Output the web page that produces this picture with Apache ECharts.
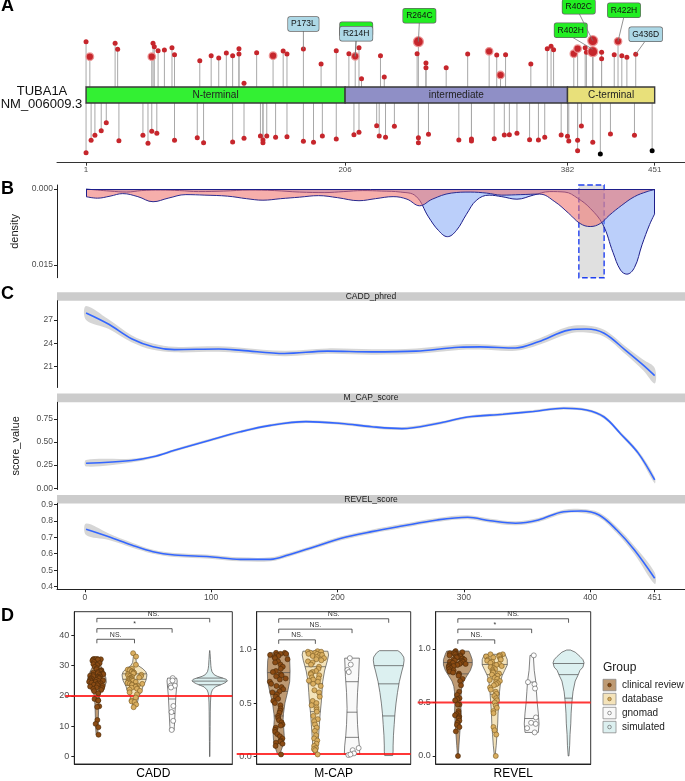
<!DOCTYPE html>
<html><head><meta charset="utf-8">
<script src="https://cdn.jsdelivr.net/npm/echarts@6/dist/echarts.min.js"></script>
<style>html,body{margin:0;padding:0;background:#fff}#c{width:685px;height:781px}</style>
</head><body><div id="c"></div>
<script>
// ================= DATA =================
// ---- Panel A : lollipop ----
const domainNames = ['N-terminal', 'intermediate', 'C-terminal'];
const domainStarts = [1, 206, 382];
const domainEnds = [206, 382, 451];
const aTicks = [1, 206, 382, 451];
// [residue, stem height, count]
const upperVariants = [[1,53.3,1],[4,38.3,2],[24,51.7,1],[26,45.7,1],[53,38.3,2],[54,51.7,1],[55,48.3,1],[58,44.3,1],[63,45,1],[69,47.3,1],[71,40.3,1],[91,34.3,1],[100,39.3,1],[106,37,1],[112,42,1],[117,39.3,1],[122,46.3,1],[122,41,1],[126,11.7,1],[136,42.3,1],[149,39.3,2],[157,44,1],[160,41,1],[173,46,1],[187,31,1],[199,44.3,1],[209,41.3,1],[214,38.7,2],[217,47.3,1],[219,16.3,1],[234,39.3,1],[237,18,1],[263,41.3,1],[264,53.3,3],[270,32,1],[270,27.3,1],[286,27.3,1],[303,41,1],[320,43.7,2],[326,40,1],[329,20,2],[333,40.3,1],[353,31,1],[366,46.3,1],[369,48.7,1],[371,45.3,1],[387,41.3,2],[390,46.3,2],[396,47.3,1],[397,42.7,1],[402,45.7,1],[402,54.3,3],[402,43.3,3],[409,42.7,1],[409,36.3,1],[419,40.3,1],[422,53.7,2],[425,39.3,1],[429,37.7,1],[436,40.7,1]];
// [residue, stem height (negative = below), count, source(0 red / 1 black)]
const lowerVariants = [[1,-57.7,1,0],[5,-45.3,1,0],[8,-40.3,1,0],[13,-35.7,1,0],[17,-27.7,1,0],[27,-45.7,1,0],[46,-40.3,1,0],[50,-48.3,1,0],[53,-36.3,1,0],[57,-38.3,1,0],[71,-45.3,1,0],[89,-42.7,1,0],[94,-47.7,1,0],[117,-47,1,0],[126,-43.3,1,0],[139,-41,1,0],[141,-45,1,0],[141,-47.7,1,0],[144,-41,1,0],[151,-42.3,1,0],[160,-41.7,1,0],[173,-46.3,1,0],[181,-47.3,1,0],[188,-41,1,0],[199,-44,1,0],[213,-39.7,1,0],[217,-37.3,1,0],[231,-30.7,1,0],[233,-41,1,0],[238,-42.3,1,0],[245,-31.3,1,0],[264,-42.7,1,0],[264,-47.7,1,0],[272,-39.3,1,0],[296,-45,1,0],[306,-44,1,0],[306,-46,1,0],[324,-43.7,1,0],[332,-40,1,0],[336,-39.7,1,0],[342,-38.3,1,0],[352,-44.7,1,0],[359,-45,1,0],[364,-42.3,1,0],[377,-40,1,0],[382,-41.3,1,0],[383,-46,1,0],[390,-45.3,1,0],[390,-55.7,1,0],[393,-31,1,0],[402,-47.3,1,0],[408,-59,1,1],[416,-39,1,0],[435,-40.3,1,0],[449,-55.7,1,1]];
// [label, residue, height, kind]
const labelledVariants = [['P173L',173,46,'database'],['R214H',214,38.7,'clinical'],['R214H',214,38.7,'database'],['R264C',264,53.3,'clinical'],['R402H',402,45.7,'clinical'],['R402C',402,54.3,'clinical'],['R422H',422,53.7,'clinical'],['G436D',436,40.7,'database']];

// ---- Panel B : density ----
const pinkRes = [1,10,20,30,42,54,66,80,95,113,128,141,155,170,185,200,217,230,244,255,265,275,290,305,318,330,345,360,372,383,392,400,408,415,425,435,445,451];
const pinkDen = [0.0015,0.0018,0.0014,0.0009,0.0015,0.0025,0.0018,0.0011,0.0012,0.0014,0.0019,0.0022,0.0019,0.0016,0.0013,0.0017,0.0023,0.0019,0.0015,0.0020,0.0033,0.0020,0.0008,0.0006,0.0008,0.0012,0.0011,0.0010,0.0025,0.0048,0.0068,0.0074,0.0068,0.0052,0.0032,0.0015,0.0005,0.0001];
const blueRes = [1,10,20,33,45,60,75,90,110,130,150,170,190,205,220,235,250,262,272,280,287,294,302,310,320,330,342,355,368,380,390,400,410,418,424,429,435,441,447,451];
const blueDen = [0.0000,0.0002,0.0004,0.0006,0.0003,0.0002,0.0003,0.0005,0.0004,0.0002,0.0003,0.0006,0.0007,0.0005,0.0003,0.0004,0.0006,0.0014,0.0055,0.0082,0.0094,0.0082,0.0050,0.0022,0.0012,0.0015,0.0020,0.0012,0.0005,0.0006,0.0018,0.0038,0.0070,0.0125,0.0160,0.0168,0.0155,0.0110,0.0070,0.0049];
const highlightRange = [391, 411];
const densityTicks = [0, 0.015];

// ---- Panel C : smoothed scores ----
const cTicks = [0, 100, 200, 300, 400, 451];
const caddRes = [1,19,37,54,71,106,124,158,192,227,262,296,313,341,359,383,397,411,428,442,451];
const caddFit = [27.9,26.45,24.6,23.57,23.2,23.27,23.1,22.7,23.0,22.9,23.0,23.5,23.55,23.4,24.2,25.7,25.84,25.3,23.1,21.2,19.85];
const caddSe  = [0.9,0.6,0.45,0.4,0.35,0.35,0.35,0.35,0.35,0.35,0.35,0.35,0.35,0.35,0.4,0.45,0.45,0.45,0.5,0.7,1.0];
const mcapRes = [1,37,54,71,99,123,147,175,203,227,251,279,303,331,355,379,397,411,424,438,451];
const mcapFit = [0.27,0.30,0.34,0.41,0.52,0.61,0.68,0.72,0.70,0.665,0.645,0.70,0.77,0.80,0.83,0.865,0.845,0.77,0.59,0.38,0.09];
const mcapSe  = [0.035,0.02,0.015,0.015,0.015,0.015,0.015,0.015,0.015,0.015,0.015,0.015,0.015,0.015,0.015,0.015,0.015,0.02,0.02,0.025,0.035];
const revelRes = [1,19,37,54,71,99,123,147,161,182,203,227,251,279,303,321,341,359,379,393,407,421,435,451];
const revelFit = [0.748,0.703,0.653,0.612,0.592,0.582,0.566,0.566,0.592,0.643,0.694,0.734,0.768,0.805,0.821,0.80,0.785,0.805,0.855,0.859,0.835,0.744,0.622,0.451];
const revelSe  = [0.035,0.02,0.015,0.012,0.012,0.012,0.012,0.012,0.012,0.012,0.012,0.012,0.012,0.012,0.012,0.012,0.012,0.012,0.012,0.012,0.015,0.02,0.025,0.035];
const caddCTicks = [21, 24, 27];
const mcapCTicks = [0, 0.25, 0.5, 0.75];
const revelCTicks = [0.4, 0.5, 0.6, 0.7, 0.8, 0.9];

// ---- Panel D : violins ----
const groupNames = ['clinical review', 'database', 'gnomad', 'simulated'];
const caddClinical = [32.2,32.2,32.2,32.1,32.0,32.0,31.6,31.2,30.8,30.5,30.2,29.6,29.2,28.8,28.5,28.3,28.1,27.9,27.7,27.5,27.4,27.2,27.0,26.9,26.7,26.5,26.4,26.2,26.0,25.9,25.8,25.6,25.4,25.3,25.1,25.0,24.9,24.7,24.6,24.4,24.2,24.1,23.9,23.7,23.5,23.3,23.1,22.8,22.6,22.3,22.0,21.6,20.9,19.0,18.6,18.5,16.6,16.4,12.1,10.8,9.7,7.2];
const caddDatabase = [34.1,33.0,30.3,29.0,28.7,28.5,28.2,28.0,27.8,27.6,27.4,27.2,27.0,26.8,26.6,26.5,26.3,26.1,26.0,25.8,25.6,25.5,25.3,25.1,25.0,24.8,24.6,24.5,24.3,24.1,24.0,23.8,23.6,23.4,23.2,23.0,22.7,22.4,22.1,21.7,21.2,20.5,19.5,18.5,18.2,18.0,17.2,16.3];
const caddGnomad = [25.9,25.1,23.4,23.4,22.8,16.7,14.7,11.8,8.8];
const mcapClinical = [0.97,0.97,0.96,0.96,0.95,0.95,0.94,0.93,0.92,0.91,0.89,0.88,0.86,0.84,0.82,0.80,0.79,0.77,0.76,0.75,0.73,0.72,0.70,0.68,0.66,0.65,0.63,0.61,0.60,0.58,0.56,0.54,0.52,0.50,0.48,0.45,0.43,0.41,0.38,0.36,0.34,0.32,0.30,0.29,0.27,0.25,0.23,0.21,0.19,0.17,0.15,0.14,0.13,0.12,0.10,0.02];
const mcapDatabase = [0.985,0.98,0.98,0.97,0.97,0.96,0.96,0.95,0.95,0.94,0.93,0.92,0.91,0.90,0.89,0.88,0.86,0.84,0.82,0.80,0.79,0.78,0.77,0.76,0.74,0.73,0.72,0.71,0.70,0.68,0.66,0.62,0.60,0.56,0.52,0.50,0.48,0.46,0.44,0.42,0.38,0.35,0.33,0.30,0.27,0.24,0.20,0.17,0.15,0.12,0.10,0.08,0.07,0.06,0.02];
const mcapGnomad = [0.92,0.86,0.81,0.79,0.08,0.06,0.03,0.015,0.02];
const revelClinical = [0.98,0.97,0.97,0.96,0.96,0.95,0.95,0.94,0.94,0.93,0.93,0.92,0.92,0.91,0.91,0.90,0.90,0.89,0.89,0.88,0.88,0.87,0.87,0.86,0.86,0.85,0.85,0.84,0.84,0.83,0.82,0.81,0.80,0.79,0.78,0.77,0.76,0.75,0.72,0.70,0.66,0.60,0.57,0.54,0.53,0.52,0.48,0.48,0.42,0.40,0.39,0.38,0.37,0.36,0.35,0.33,0.31,0.29,0.27,0.23,0.0];
const revelDatabase = [0.95,0.95,0.94,0.94,0.93,0.93,0.92,0.91,0.90,0.90,0.89,0.88,0.87,0.86,0.85,0.85,0.84,0.83,0.82,0.81,0.80,0.79,0.78,0.77,0.76,0.75,0.73,0.72,0.71,0.70,0.69,0.68,0.67,0.66,0.64,0.62,0.60,0.58,0.56,0.54,0.52,0.50,0.47,0.45,0.42,0.40,0.27,0.24,0.20,0.0];
const revelGnomad = [0.94,0.69,0.67,0.63,0.36,0.31,0.30,0.26,0.22];
// violin outlines: [value, half-width in group units]
const caddViolins = [
  [[7.2,0.02],[10,0.035],[13,0.04],[17,0.05],[20,0.07],[21.5,0.1],[23,0.2],[24.5,0.25],[26,0.24],[28,0.18],[30,0.1],[31,0.13],[32.2,0.15]],
  [[16.3,0.03],[17,0.05],[18,0.08],[19,0.1],[20,0.12],[21,0.16],[22,0.2],[23,0.22],[24,0.26],[25,0.3],[26,0.32],[27,0.33],[28,0.3],[29,0.22],[30,0.1],[31,0.05],[33,0.03],[34.1,0.01]],
  [[8.6,0.05],[10,0.06],[15,0.08],[20,0.1],[25,0.135],[25.9,0.12]],
  [[0,0.005],[5,0.008],[10,0.012],[15,0.015],[18,0.02],[20,0.03],[21,0.04],[22,0.07],[23,0.15],[23.5,0.25],[24,0.35],[24.5,0.43],[25,0.47],[25.5,0.44],[26,0.32],[26.5,0.2],[27,0.12],[28,0.06],[29,0.04],[30,0.03],[32,0.02],[34,0.01],[35,0.002]]
];
const caddQuantiles = [[23.2,25.5,28.0],[23.5,25.5,27.3],[14.2,19.0,23.0],[23.7,24.9,25.9]];
const mcapViolins = [
  [[0.02,0.03],[0.05,0.06],[0.1,0.11],[0.15,0.14],[0.2,0.15],[0.3,0.13],[0.35,0.12],[0.4,0.13],[0.5,0.17],[0.6,0.24],[0.7,0.3],[0.8,0.31],[0.9,0.3],[0.97,0.26]],
  [[0.02,0.04],[0.05,0.06],[0.1,0.07],[0.2,0.09],[0.3,0.11],[0.4,0.13],[0.5,0.16],[0.6,0.18],[0.7,0.2],[0.8,0.25],[0.9,0.33],[0.95,0.36],[0.985,0.34]],
  [[0.02,0.21],[0.1,0.2],[0.2,0.17],[0.3,0.15],[0.45,0.135],[0.6,0.15],[0.75,0.18],[0.92,0.2]],
  [[0.01,0.11],[0.05,0.12],[0.1,0.12],[0.2,0.13],[0.3,0.15],[0.4,0.17],[0.5,0.2],[0.6,0.24],[0.7,0.29],[0.8,0.36],[0.85,0.4],[0.9,0.42],[0.93,0.41],[0.97,0.33],[0.99,0.25]]
];
const mcapQuantiles = [[0.38,0.61,0.785],[0.42,0.68,0.84],[0.18,0.415,0.70],[0.38,0.68,0.85]];
const revelViolins = [
  [[0.0,0.01],[0.1,0.03],[0.2,0.05],[0.3,0.07],[0.4,0.09],[0.5,0.08],[0.6,0.09],[0.65,0.11],[0.7,0.16],[0.75,0.25],[0.8,0.34],[0.85,0.39],[0.9,0.39],[0.95,0.34],[0.98,0.3]],
  [[0.0,0.01],[0.1,0.04],[0.2,0.06],[0.3,0.08],[0.4,0.09],[0.5,0.11],[0.6,0.13],[0.7,0.16],[0.75,0.2],[0.8,0.27],[0.85,0.34],[0.9,0.34],[0.95,0.28]],
  [[0.22,0.18],[0.3,0.2],[0.4,0.18],[0.5,0.15],[0.6,0.13],[0.7,0.11],[0.8,0.07],[0.94,0.045]],
  [[0.0,0.01],[0.1,0.03],[0.2,0.04],[0.3,0.06],[0.4,0.07],[0.5,0.09],[0.6,0.12],[0.7,0.18],[0.75,0.25],[0.8,0.31],[0.83,0.39],[0.87,0.42],[0.9,0.39],[0.93,0.31],[0.97,0.18],[0.99,0.05]]
];
const revelQuantiles = [[0.53,0.767,0.873],[0.576,0.76,0.855],[0.35,0.5,0.69],[0.54,0.76,0.864]];
const thresholds = [20, 0.025, 0.5];
const caddBrackets = [[1,2,38.7,'NS.'],[1,3,42.2,'*'],[1,4,45.6,'NS.']];
const mcapBrackets = [[1,2,1.091,'NS.'],[1,3,1.191,'NS.'],[1,4,1.288,'NS.']];
const revelBrackets = [[1,2,1.085,'NS.'],[1,3,1.185,'*'],[1,4,1.282,'NS.']];
const caddDTicks = [0, 10, 20, 30, 40];
const scoreDTicks = [0, 0.5, 1.0];

// ================= STYLE / LAYOUT =================
const FONT = '"Liberation Sans", Arial, sans-serif';
const TICKC = '#4D4D4D';
const BAR_HALF = 8;
const dotRed = '#C6262C';
const labelFill = {clinical: '#22EE22', database: '#ADD8E6'};
const labelOffsets = {'P173L':[0,-25], 'R214H-clinical':[1,-27], 'R214H-database':[1,-22.5], 'R264C':[1,-26], 'R402H':[-22,-19], 'R402C':[-14,-34], 'R422H':[6,-31], 'G436D':[10,-20]};
const domainFill = ['#33F033', '#8F8FC6', '#E8E07A'];
const violinFill = ['#BE9A73', '#F4E3BA', '#F9F9F9', '#DCF0F0'];
const ptFill = ['#8A4B14', '#D9AE60', '#FFFFFF'];
const ptStroke = ['#4A2A0A', '#7A5A22', '#555555'];

const posAxis = {type: 'value', min: -22, max: 475, splitLine: {show: false}};
function yCommon(ticks, fmt, extra) {
  return Object.assign({
    type: 'value', splitLine: {show: false},
    axisLine: {show: true, onZero: false, lineStyle: {color: '#222', width: 1}},
    axisTick: {show: true, customValues: ticks, length: 3, lineStyle: {color: '#222'}},
    axisLabel: {show: true, customValues: ticks, formatter: fmt, fontSize: 8.5, color: TICKC, margin: 4, fontFamily: FONT}
  }, extra);
}
function hwAt(shape, v) {
  if (v <= shape[0][0]) return shape[0][1];
  for (let i = 1; i < shape.length; i++) {
    if (v <= shape[i][0]) { const a = shape[i-1], b = shape[i]; const t = (v - a[0]) / (b[0] - a[0]); return a[1] + t * (b[1] - a[1]); }
  }
  return shape[shape.length-1][1];
}
function hashFrac(k) { const s = Math.sin(k * 12.9898 + 78.233) * 43758.5453; return s - Math.floor(s); }

// ================= OPTION =================
const grids = [
  {left: 57, top: 30, width: 628, height: 132.7},
  {left: 57, top: 185, width: 628, height: 92.7},
  {left: 57, top: 300.7, width: 628, height: 86.8},
  {left: 57, top: 402.3, width: 628, height: 87.2},
  {left: 57, top: 503.3, width: 628, height: 86},
  {left: 74.3, top: 611.7, width: 158, height: 156.6, show: true, borderColor: '#333', borderWidth: 1},
  {left: 256.7, top: 611.7, width: 154, height: 156.6, show: true, borderColor: '#333', borderWidth: 1},
  {left: 435.7, top: 611.7, width: 155, height: 156.6, show: true, borderColor: '#333', borderWidth: 1}
];

const xAxes = [
  Object.assign({}, posAxis, {gridIndex: 0, axisLine: {show: true, onZero: false, lineStyle: {color: '#333'}},
    axisTick: {show: true, customValues: aTicks, length: 3, lineStyle: {color: '#333'}},
    axisLabel: {show: true, customValues: aTicks, fontSize: 8, color: TICKC, margin: 3, fontFamily: FONT}}),
  Object.assign({}, posAxis, {gridIndex: 1, show: false}),
  Object.assign({}, posAxis, {gridIndex: 2, show: false}),
  Object.assign({}, posAxis, {gridIndex: 3, show: false}),
  Object.assign({}, posAxis, {gridIndex: 4, axisLine: {show: true, onZero: false, lineStyle: {color: '#222'}},
    axisTick: {show: true, customValues: cTicks, length: 3, lineStyle: {color: '#222'}},
    axisLabel: {show: true, customValues: cTicks, fontSize: 8.5, color: TICKC, margin: 4, fontFamily: FONT}})
];
const dNames = ['CADD', 'M-CAP', 'REVEL'];
dNames.forEach((n, i) => {
  xAxes.push({type: 'value', gridIndex: 5 + i, min: 0.4, max: 4.6, splitLine: {show: false},
    axisLine: {show: true, onZero: false, lineStyle: {color: '#222'}}, axisTick: {show: false}, axisLabel: {show: false},
    name: n, nameLocation: 'middle', nameGap: 4, nameTextStyle: {fontSize: 12, color: '#000', fontFamily: FONT, verticalAlign: 'top'}});
});

const yAxes = [
  {type: 'value', gridIndex: 0, min: -67.7, max: 65, show: false},
  yCommon(densityTicks, v => v.toFixed(3), {gridIndex: 1, inverse: true, min: -0.0008, max: 0.0175,
    name: 'density', nameLocation: 'middle', nameGap: 35, nameTextStyle: {fontSize: 11, color: '#1A1A1A', fontFamily: FONT}}),
  yCommon(caddCTicks, v => String(v), {gridIndex: 2, min: 18.33, max: 29.48}),
  yCommon(mcapCTicks, v => v.toFixed(2), {gridIndex: 3, min: -0.013, max: 0.929,
    name: 'score_value', nameLocation: 'middle', nameGap: 36, nameTextStyle: {fontSize: 11, color: '#1A1A1A', fontFamily: FONT}}),
  yCommon(revelCTicks, v => v.toFixed(1), {gridIndex: 4, min: 0.3842, max: 0.906}),
  yCommon(caddDTicks, v => String(v), {gridIndex: 5, min: -2.44, max: 47.8}),
  yCommon(scoreDTicks, v => v.toFixed(1), {gridIndex: 6, min: -0.069, max: 1.354}),
  yCommon(scoreDTicks, v => v.toFixed(1), {gridIndex: 7, min: -0.075, max: 1.348})
];
yAxes.slice(5).forEach(a => { a.axisLabel.fontSize = 9; a.axisLabel.margin = 5; });

const series = [];

// ---- Panel A ----
const allVariants = upperVariants.map(v => [v[0], v[1], v[2], 0]).concat(lowerVariants);
series.push({
  type: 'custom', xAxisIndex: 0, yAxisIndex: 0, z: 2, silent: true,
  data: allVariants.map(v => [v[0], v[1]]),
  renderItem: (p, api) => {
    const r = api.value(0), h = api.value(1);
    const a = api.coord([r, h > 0 ? BAR_HALF : -BAR_HALF]), b = api.coord([r, h]);
    return {type: 'line', shape: {x1: a[0], y1: a[1], x2: b[0], y2: b[1]}, style: {stroke: '#A8A8A8', lineWidth: 1}};
  }
});
series.push({
  type: 'custom', xAxisIndex: 0, yAxisIndex: 0, z: 3, silent: true,
  data: domainNames.map((n, i) => [domainStarts[i], domainEnds[i]]),
  renderItem: (p, api) => {
    const i = p.dataIndex;
    const a = api.coord([domainStarts[i], BAR_HALF]), b = api.coord([domainEnds[i], -BAR_HALF]);
    return {type: 'group', children: [
      {type: 'rect', shape: {x: a[0], y: a[1], width: b[0] - a[0], height: b[1] - a[1]}, style: {fill: domainFill[i], stroke: '#3A3A3A', lineWidth: 1.4}},
      {type: 'text', x: (a[0] + b[0]) / 2, y: (a[1] + b[1]) / 2, style: {text: domainNames[i], font: '10px ' + FONT, fill: '#222', align: 'center', verticalAlign: 'middle'}}
    ]};
  }
});
const sizeByCount = c => c === 1 ? 5 : (c === 2 ? 7.5 : 10);
series.push({
  type: 'scatter', xAxisIndex: 0, yAxisIndex: 0, z: 4, silent: true,
  data: allVariants.filter(v => v[3] === 0).map(v => ({value: [v[0], v[1], v[2]],
    itemStyle: v[2] > 1 ? {borderColor: 'rgba(236,150,150,0.9)', borderWidth: 1.3} : {}})),
  symbolSize: v => sizeByCount(v[2]),
  itemStyle: {color: dotRed, opacity: 1}
});
series.push({
  type: 'scatter', xAxisIndex: 0, yAxisIndex: 0, z: 4, silent: true,
  data: allVariants.filter(v => v[3] === 1).map(v => [v[0], v[1], v[2]]),
  symbolSize: v => sizeByCount(v[2]),
  itemStyle: {color: '#000', opacity: 1}
});
series.push({
  type: 'custom', xAxisIndex: 0, yAxisIndex: 0, z: 6, silent: true,
  data: labelledVariants.map(l => [l[1], l[2]]),
  renderItem: (p, api) => {
    const l = labelledVariants[p.dataIndex];
    const key = labelOffsets[l[0] + '-' + l[3]] ? l[0] + '-' + l[3] : l[0];
    const off = labelOffsets[key];
    const d = api.coord([l[1], l[2]]);
    const cx = d[0] + off[0], cy = d[1] + off[1];
    return {type: 'group', children: [
      {type: 'line', shape: {x1: d[0], y1: d[1], x2: cx, y2: cy + 6}, style: {stroke: '#777', lineWidth: 0.8}},
      {type: 'text', x: cx, y: cy, style: {text: l[0], font: '8.5px ' + FONT, fill: '#111', align: 'center', verticalAlign: 'middle',
        backgroundColor: labelFill[l[3]], borderColor: '#666', borderWidth: 0.7, borderRadius: 2, padding: [3, 3, 2, 3]}}
    ]};
  }
});

// ---- Panel B ----
series.push({
  type: 'line', xAxisIndex: 1, yAxisIndex: 1, z: 1, silent: true, symbol: 'none',
  data: [[highlightRange[0], 0]], lineStyle: {opacity: 0},
  markArea: {silent: true, itemStyle: {color: '#E0E0E0', borderColor: '#2040F0', borderWidth: 1.4, borderType: 'dashed'},
    data: [[{xAxis: highlightRange[0], yAxis: -0.0008}, {xAxis: highlightRange[1], yAxis: 0.0175}]]}
});
series.push({
  type: 'line', xAxisIndex: 1, yAxisIndex: 1, z: 2, silent: true, symbol: 'none', smooth: 0.4,
  data: blueRes.map((r, i) => [r, blueDen[i]]),
  lineStyle: {color: '#1E1E8A', width: 1},
  areaStyle: {color: 'rgba(120,160,245,0.5)', opacity: 1}
});
series.push({
  type: 'line', xAxisIndex: 1, yAxisIndex: 1, z: 3, silent: true, symbol: 'none', smooth: 0.4,
  data: pinkRes.map((r, i) => [r, pinkDen[i]]),
  lineStyle: {color: '#2A2A90', width: 1},
  areaStyle: {color: 'rgba(240,115,110,0.58)', opacity: 1},
  markLine: {silent: true, symbol: 'none', lineStyle: {color: '#1E1E8A', width: 1, type: 'solid'}, label: {show: false},
    data: [
      [{coord: [pinkRes[0], 0]}, {coord: [pinkRes[pinkRes.length-1], 0]}],
      [{coord: [pinkRes[0], 0]}, {coord: [pinkRes[0], pinkDen[0]]}],
      [{coord: [blueRes[blueRes.length-1], 0]}, {coord: [blueRes[blueRes.length-1], blueDen[blueDen.length-1]]}]
    ]}
});

// ---- Panel C ----
[[caddRes, caddFit, caddSe], [mcapRes, mcapFit, mcapSe], [revelRes, revelFit, revelSe]].forEach((d, k) => {
  const idx = 2 + k, res = d[0], fit = d[1], se = d[2];
  series.push({
    type: 'custom', xAxisIndex: idx, yAxisIndex: idx, z: 2, silent: true, data: [[res[0], fit[0]]],
    renderItem: (p, api) => {
      const up = res.map((r, i) => api.coord([r, fit[i] + se[i]]));
      const lo = res.map((r, i) => api.coord([r, fit[i] - se[i]])).reverse();
      return {type: 'polygon', shape: {points: up.concat(lo), smooth: 0.35}, style: {fill: 'rgba(153,153,153,0.4)'}};
    }
  });
  series.push({
    type: 'line', xAxisIndex: idx, yAxisIndex: idx, z: 3, silent: true, symbol: 'none', smooth: 0.35,
    data: res.map((r, i) => [r, fit[i]]), lineStyle: {color: '#3366FF', width: 1.6}
  });
});

// ---- Panel D ----
const dSpecs = [
  {shapes: caddViolins, quants: caddQuantiles, pts: [caddClinical, caddDatabase, caddGnomad], thr: thresholds[0], br: caddBrackets, ext: 9},
  {shapes: mcapViolins, quants: mcapQuantiles, pts: [mcapClinical, mcapDatabase, mcapGnomad], thr: thresholds[1], br: mcapBrackets, ext: 20},
  {shapes: revelViolins, quants: revelQuantiles, pts: [revelClinical, revelDatabase, revelGnomad], thr: thresholds[2], br: revelBrackets, ext: 18}
];
dSpecs.forEach((s, k) => {
  const idx = 5 + k;
  series.push({
    type: 'custom', xAxisIndex: idx, yAxisIndex: idx, z: 2, silent: true,
    data: s.shapes.map((sh, i) => [i + 1, sh[0][0]]),
    renderItem: (p, api) => {
      const i = p.dataIndex, sh = s.shapes[i], cx = i + 1;
      const right = sh.map(q => api.coord([cx + q[1], q[0]]));
      const left = sh.slice().reverse().map(q => api.coord([cx - q[1], q[0]]));
      const ch = [{type: 'polygon', shape: {points: right.concat(left)}, style: {fill: violinFill[i], stroke: '#4D4D4D', lineWidth: 0.7}}];
      s.quants[i].forEach(q => {
        const hw = hwAt(sh, q); const a = api.coord([cx - hw, q]), b = api.coord([cx + hw, q]);
        ch.push({type: 'line', shape: {x1: a[0], y1: a[1], x2: b[0], y2: b[1]}, style: {stroke: '#4D4D4D', lineWidth: 0.7}});
      });
      return {type: 'group', children: ch};
    }
  });
  series.push({
    type: 'custom', xAxisIndex: idx, yAxisIndex: idx, z: 3, silent: true, clip: false,
    data: [[0.4, s.thr]],
    renderItem: (p, api) => {
      const a = api.coord([0.4, s.thr]), b = api.coord([4.6, s.thr]);
      return {type: 'line', shape: {x1: a[0] - s.ext, y1: a[1], x2: b[0], y2: b[1]}, style: {stroke: 'rgba(255,20,20,0.85)', lineWidth: 2}};
    }
  });
  s.pts.forEach((vals, g) => {
    series.push({
      type: 'scatter', xAxisIndex: idx, yAxisIndex: idx, z: 4, silent: true, symbolSize: 5,
      data: vals.map((v, j) => {
        const amp = Math.min(0.25, Math.max(0.07, hwAt(s.shapes[g], v) * 0.9));
        return [g + 1 + (hashFrac(j * 3.1 + g * 17 + k * 41) - 0.5) * 2 * amp, v];
      }),
      itemStyle: {color: ptFill[g], borderColor: ptStroke[g], borderWidth: 0.6, opacity: 1}
    });
  });
  series.push({
    type: 'custom', xAxisIndex: idx, yAxisIndex: idx, z: 5, silent: true, clip: false,
    data: s.br.map(b => [b[0], b[2]]),
    renderItem: (p, api) => {
      const b = s.br[p.dataIndex];
      const a1 = api.coord([b[0], b[2]]), a2 = api.coord([b[1], b[2]]);
      return {type: 'group', children: [
        {type: 'polyline', shape: {points: [[a1[0], a1[1] + 4], [a1[0], a1[1]], [a2[0], a2[1]], [a2[0], a2[1] + 4]]}, style: {stroke: '#333', lineWidth: 0.8, fill: null}},
        {type: 'text', x: (a1[0] + a2[0]) / 2, y: a1[1] - 1, style: {text: b[3], font: '7px ' + FONT, fill: '#333', align: 'center', verticalAlign: 'bottom'}}
      ]};
    }
  });
});

// ---- Graphic (panel letters, gene label, strips, legend) ----
const graphic = [];
[['A', 1, -3], ['B', 1, 179.6], ['C', 1, 284.6], ['D', 1, 607.3]].forEach(t => {
  graphic.push({type: 'text', x: t[1], y: t[2], style: {text: t[0], font: 'bold 18px ' + FONT, fill: '#000'}});
});
graphic.push({type: 'text', x: 42, y: 91, style: {text: 'TUBA1A', font: '13px ' + FONT, fill: '#111', align: 'center', verticalAlign: 'middle'}});
graphic.push({type: 'text', x: 41.5, y: 104, style: {text: 'NM_006009.3', font: '13px ' + FONT, fill: '#111', align: 'center', verticalAlign: 'middle'}});
[['CADD_phred', 292.2], ['M_CAP_score', 393.6], ['REVEL_score', 494.9]].forEach(s => {
  graphic.push({type: 'rect', shape: {x: 57, y: s[1], width: 628, height: 8.6}, style: {fill: '#CCCCCC'}});
  graphic.push({type: 'text', x: 371, y: s[1] + 4.5, style: {text: s[0], font: '8.5px ' + FONT, fill: '#1A1A1A', align: 'center', verticalAlign: 'middle'}});
});
graphic.push({type: 'text', x: 603, y: 668, style: {text: 'Group', font: '12px ' + FONT, fill: '#1A1A1A', verticalAlign: 'middle'}});
groupNames.forEach((g, i) => {
  const y = 679.3 + i * 14;
  graphic.push({type: 'rect', shape: {x: 603, y: y, width: 13, height: 11.5}, style: {fill: violinFill[i], stroke: '#8A8A8A', lineWidth: 0.8}});
  graphic.push({type: 'circle', shape: {cx: 609.5, cy: y + 5.75, r: 1.8}, style: {fill: i < 3 ? ptFill[i] : '#DCF0F0', stroke: i < 3 ? ptStroke[i] : '#555', lineWidth: 0.6}});
  graphic.push({type: 'text', x: 622, y: y + 5.75, style: {text: g, font: '10px ' + FONT, fill: '#1A1A1A', verticalAlign: 'middle'}});
});

const chart = echarts.init(document.getElementById('c'), null, {renderer: 'canvas'});
chart.setOption({
  animation: false,
  backgroundColor: '#fff',
  textStyle: {fontFamily: FONT},
  grid: grids, xAxis: xAxes, yAxis: yAxes, series: series, graphic: graphic
});
</script></body></html>
